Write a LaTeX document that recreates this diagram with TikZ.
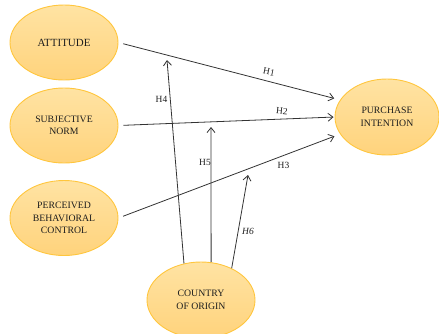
\documentclass[tikz,border=0pt]{standalone}
\usepackage{fontspec}
\setmainfont{Liberation Serif}
\usepackage{xcolor}
\usepackage{tikz}
\usetikzlibrary{shapes.geometric,arrows.meta}
\definecolor{FactorEdge}{HTML}{FFC63D}
\definecolor{FactorTop}{HTML}{FFE3A3}
\definecolor{FactorBottom}{HTML}{FFD37C}
\definecolor{InkGray}{HTML}{1E1E1E}
\definecolor{LinkGray}{HTML}{333333}

\begin{document}
\begin{tikzpicture}[x=1bp,y=-1bp,
        factor/.style={ellipse, draw=FactorEdge, line width=0.9bp,
            top color=FactorTop, bottom color=FactorBottom,
            minimum width=108bp, minimum height=75bp, inner sep=0pt,
            align=center, text=InkGray,
            font=\fontsize{9.8}{12.5}\selectfont},
        link/.style={draw=LinkGray, line width=0.8bp,
            -{Straight Barb[length=5bp,width=8bp]}},
        hyp/.style={text=InkGray, inner sep=0pt,
            font=\fontsize{9.5}{11}\selectfont}]
    \useasboundingbox (0,0) rectangle (439,333);
    % constructs
    \node[factor, font=\fontsize{11}{13}\selectfont] (att) at (64,42.5) {ATTITUDE};
    \node[factor] (sn) at (64,125.5) {SUBJECTIVE\\NORM};
    \node[factor] (pbc) at (64,218) {PERCEIVED\\BEHAVIORAL\\CONTROL};
    \node[factor, minimum width=104bp, minimum height=76bp] (pi) at (387,117) {PURCHASE\\INTENTION};
    \node[factor, minimum height=76bp] (coo) at (201,300) {COUNTRY\\OF ORIGIN};
    % targets of the moderating paths
    \coordinate (t4) at (167,60);
    \coordinate (t5) at (211,127);
    \coordinate (t6) at (248,175);
    % direct paths
    \draw[link, shorten <=5bp, shorten >=6bp] (att.east) -- (pi.160);
    \draw[link, shorten <=5bp, shorten >=1bp] (sn.east) -- (pi.west);
    \draw[link, shorten <=5bp, shorten >=6bp] (pbc.east) -- (pi.200);
    % moderating paths
    \draw[link] (coo.115) -- (t4);
    \draw[link] (coo.75) -- (t5);
    \draw[link] (coo.46) -- (t6);
    % labels
    \node[hyp, rotate=-12] (h1) at (269,72) {H1};
    \node[hyp, rotate=-6] (h2) at (282,111) {H2};
    \node[hyp] (h3) at (283.5,165.5) {H3};
    \node[hyp] (h4) at (161.5,99) {H4};
    \node[hyp] (h5) at (205,162) {H5};
    \node[hyp, font=\fontsize{9.5}{11}\selectfont\itshape] (h6) at (248,231) {H6};
\end{tikzpicture}
\end{document}
